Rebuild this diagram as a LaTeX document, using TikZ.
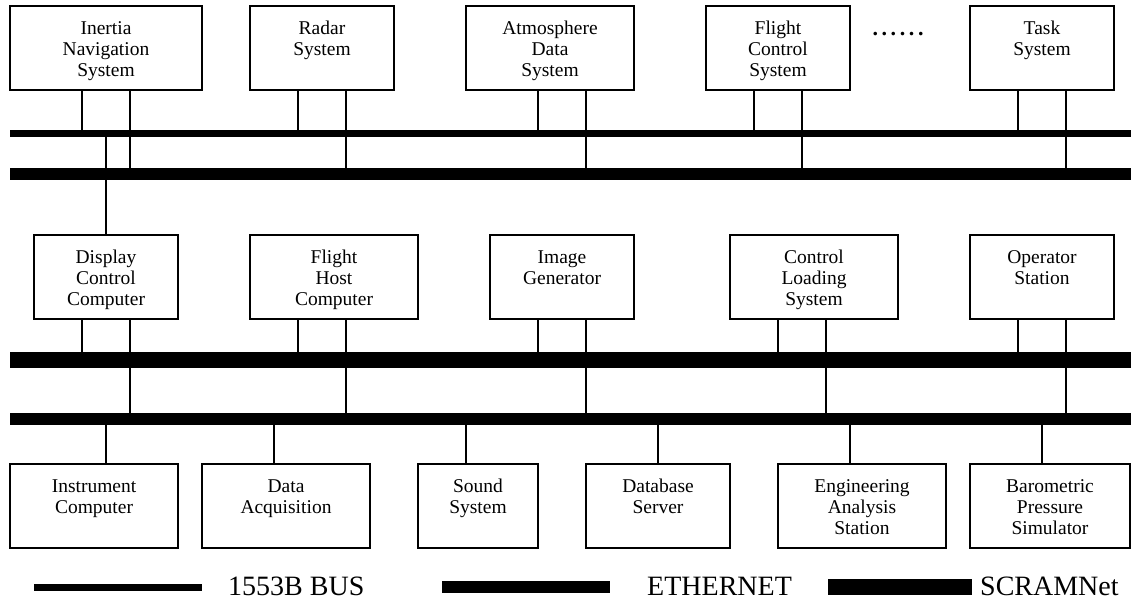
\documentclass[tikz,border=0pt]{standalone}
\usepackage{fontspec}
\setmainfont{Liberation Serif}

% a subsystem box: name, left, right, top, caption lines
\newcommand\sysbox[5]{%
  \node[unit, minimum width={#3pt-#2pt}] (#1) at ({(#2+#3)/2},{#4+42}) {};
  \node[caption] (#1-t) at ([yshift=-29.5pt]#1.north)
    {\begin{tabular}[t]{@{}c@{}}#5\end{tabular}};}

% a drop line at x from a box edge to a bus
\newcommand\tapdown[3]{\draw[link] (#1.south -| #2,0) -- (#3 -| #2,0);}
\newcommand\tapup[3]{\draw[link] (#1.north -| #2,0) -- (#3 -| #2,0);}

\begin{document}
\begin{tikzpicture}[x=1pt,y=-1pt,
  unit/.style={draw, line width=1.5pt, inner sep=0pt, minimum height=84pt},
  caption/.style={anchor=base, inner sep=0pt, font=\fontsize{19.5}{21}\selectfont},
  link/.style={line width=1.1pt},
  bmil/.style={line width=7pt},
  beth/.style={line width=12pt},
  bscr/.style={line width=16pt},
  legendtext/.style={anchor=base west, inner sep=0pt, font=\fontsize{28}{30}\selectfont}]

\useasboundingbox (0,0) rectangle (1131,600);

% ---- avionics subsystems ----
\sysbox{ins}{10}{202}{6}{Inertia\\Navigation\\System}
\sysbox{rad}{250}{394}{6}{Radar\\System}
\sysbox{ads}{466}{634}{6}{Atmosphere\\Data\\System}
\sysbox{fcs}{706}{850}{6}{Flight\\Control\\System}
\sysbox{tsk}{970}{1114}{6}{Task\\System}
\node[anchor=base, inner sep=0pt, font=\fontsize{22}{24}\selectfont\bfseries] (dots) at (898,35)
  {.\hspace{3.6pt}.\hspace{3.6pt}.\hspace{3.6pt}.\hspace{3.6pt}.\hspace{3.6pt}.};

% ---- simulator computers ----
\sysbox{dcc}{34}{178}{235}{Display\\Control\\Computer}
\sysbox{fhc}{250}{418}{235}{Flight\\Host\\Computer}
\sysbox{igen}{490}{634}{235}{Image\\Generator}
\sysbox{cls}{730}{898}{235}{Control\\Loading\\System}
\sysbox{ops}{970}{1114}{235}{Operator\\Station}

% ---- support equipment ----
\sysbox{ic}{10}{178}{464}{Instrument\\Computer}
\sysbox{daq}{202}{370}{464}{Data\\Acquisition}
\sysbox{snd}{418}{538}{464}{Sound\\System}
\sysbox{dbs}{586}{730}{464}{Database\\Server}
\sysbox{eas}{778}{946}{464}{Engineering\\Analysis\\Station}
\sysbox{bps}{970}{1130}{464}{Barometric\\Pressure\\Simulator}

% ---- bus end points ----
\coordinate (milA) at (10,133);   \coordinate (milB) at (1131,133);
\coordinate (ethA) at (10,173.5); \coordinate (ethB) at (1131,173.5);
\coordinate (scrA) at (10,360);   \coordinate (scrB) at (1131,360);
\coordinate (etwA) at (10,419);   \coordinate (etwB) at (1131,419);

% ---- drops from the avionics row ----
\tapdown{ins}{82}{milA}  \tapdown{ins}{130}{ethA}
\tapdown{rad}{298}{milA} \tapdown{rad}{346}{ethA}
\tapdown{ads}{538}{milA} \tapdown{ads}{586}{ethA}
\tapdown{fcs}{754}{milA} \tapdown{fcs}{802}{ethA}
\tapdown{tsk}{1018}{milA} \tapdown{tsk}{1066}{ethA}
\tapup{dcc}{106}{milA}

% ---- drops from the simulator row ----
\tapdown{dcc}{82}{scrA}  \tapdown{dcc}{130}{etwA}
\tapdown{fhc}{298}{scrA} \tapdown{fhc}{346}{etwA}
\tapdown{igen}{538}{scrA} \tapdown{igen}{586}{etwA}
\tapdown{cls}{778}{scrA} \tapdown{cls}{826}{etwA}
\tapdown{ops}{1018}{scrA} \tapdown{ops}{1066}{etwA}

% ---- support equipment on the Ethernet ----
\tapup{ic}{106}{etwA}
\tapup{daq}{274}{etwA}
\tapup{snd}{466}{etwA}
\tapup{dbs}{658}{etwA}
\tapup{eas}{850}{etwA}
\tapup{bps}{1042}{etwA}

% ---- buses ----
\draw[bmil] (milA) -- (milB);
\draw[beth] (ethA) -- (ethB);
\draw[bscr] (scrA) -- (scrB);
\draw[beth] (etwA) -- (etwB);

% ---- legend ----
\coordinate (k1a) at (34,587);  \coordinate (k1b) at (202,587);
\coordinate (k2a) at (442,587); \coordinate (k2b) at (610,587);
\coordinate (k3a) at (828,587); \coordinate (k3b) at (972,587);
\draw[bmil] (k1a) -- (k1b);
\draw[beth] (k2a) -- (k2b);
\draw[bscr] (k3a) -- (k3b);
\node[legendtext] (k1t) at (228,595) {1553B BUS};
\node[legendtext] (k2t) at (647,595) {ETHERNET};
\node[legendtext] (k3t) at (980,595) {SCRAMNet};
\end{tikzpicture}
\end{document}
